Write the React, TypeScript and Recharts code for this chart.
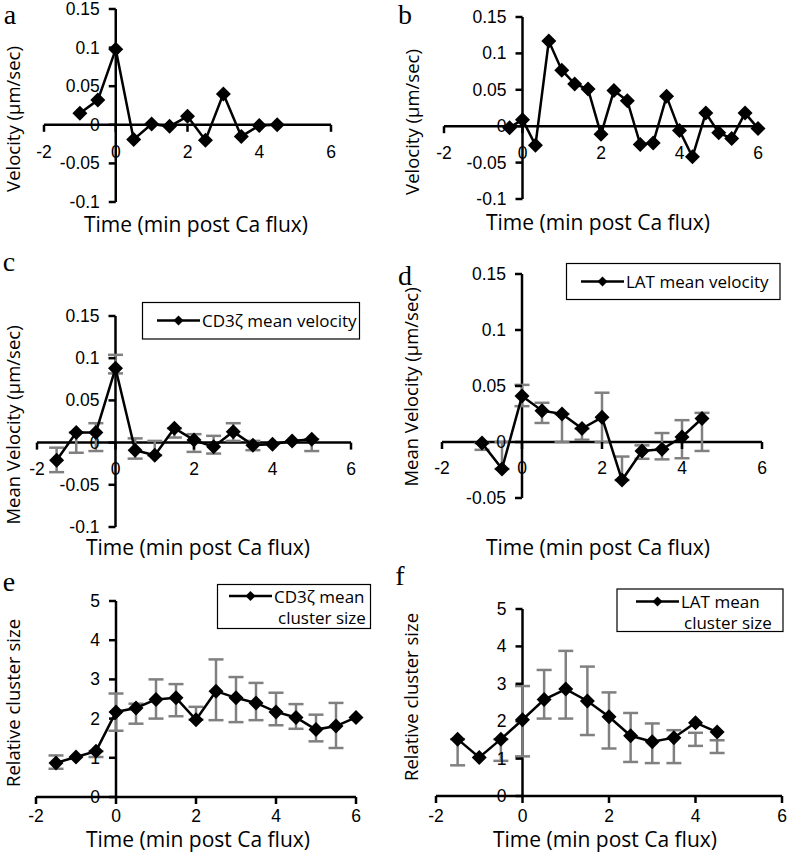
import React from "react";
import { LineChart, Line, XAxis, YAxis, ErrorBar, ReferenceLine, ReferenceDot } from "recharts";

// a – single CD3ζ track velocity
const timeA = [-1, -0.5, 0, 0.5, 1, 1.5, 2, 2.5, 3, 3.5, 4, 4.5];
const velA = [0.015, 0.032, 0.098, -0.019, 0.001, -0.002, 0.011, -0.02, 0.04, -0.015, -0.001, 0.0];

// b – single LAT track velocity
const timeB = [-0.33, 0, 0.33, 0.67, 1, 1.33, 1.67, 2, 2.33, 2.67, 3, 3.33, 3.67, 4, 4.33, 4.67, 5, 5.33, 5.67, 6];
const velB = [-0.002, 0.009, -0.026, 0.117, 0.077, 0.058, 0.051, -0.011, 0.049, 0.035, -0.025, -0.023, 0.041, -0.006, -0.042, 0.018, -0.009, -0.017, 0.018, -0.003];

// c – CD3ζ mean velocity (error bar low / high ends)
const timeC = [-1.5, -1, -0.5, 0, 0.5, 1, 1.5, 2, 2.5, 3, 3.5, 4, 4.5, 5];
const velC = [-0.021, 0.012, 0.012, 0.088, -0.009, -0.015, 0.017, 0.003, -0.005, 0.013, -0.003, -0.002, 0.002, 0.004];
const lowC = [-0.035, -0.012, -0.01, 0.082, -0.019, -0.015, 0.006, -0.011, -0.013, 0.002, -0.009, null, null, -0.01];
const highC = [-0.006, 0.012, 0.023, 0.104, 0.005, 0.002, 0.017, 0.01, 0.008, 0.023, 0.002, null, null, 0.004];

// d – LAT mean velocity
const timeD = [-1, -0.5, 0, 0.5, 1, 1.5, 2, 2.5, 3, 3.5, 4, 4.5];
const velD = [-0.001, -0.024, 0.041, 0.028, 0.025, 0.012, 0.022, -0.034, -0.008, -0.0065, 0.0045, 0.021];
const lowD = [-0.007, -0.024, 0.032, 0.017, 0.0, 0.002, 0.0, -0.034, -0.015, -0.0155, -0.0145, -0.008];
const highD = [-0.001, 0.0, 0.051, 0.035, 0.025, 0.012, 0.044, -0.013, -0.003, 0.008, 0.0195, 0.026];

// e – CD3ζ mean cluster size
const timeE = [-1.5, -1, -0.5, 0, 0.5, 1, 1.5, 2, 2.5, 3, 3.5, 4, 4.5, 5, 5.5, 6];
const sizeE = [0.87, 1.02, 1.17, 2.17, 2.27, 2.49, 2.53, 1.97, 2.7, 2.53, 2.4, 2.17, 2.03, 1.72, 1.81, 2.03];
const lowE = [0.72, null, 1.02, 1.69, 1.87, 2.0, 2.06, 1.97, 1.96, 1.91, 1.96, 1.83, 1.74, 1.42, 1.25, null];
const highE = [1.06, null, 1.17, 2.64, 2.38, 3.0, 2.88, 2.3, 3.51, 3.06, 2.91, 2.66, 2.37, 2.1, 2.4, null];

// f – LAT mean cluster size
const timeF = [-1.5, -1, -0.5, 0, 0.5, 1, 1.5, 2, 2.5, 3, 3.5, 4, 4.5];
const sizeF = [1.52, 1.03, 1.52, 2.04, 2.58, 2.86, 2.54, 2.12, 1.61, 1.45, 1.56, 1.96, 1.71];
const lowF = [0.82, null, 0.94, 1.06, 2.07, 2.07, 1.63, 1.27, 0.91, 0.88, 0.88, 1.34, 1.15];
const highF = [1.52, null, 1.52, 2.94, 3.37, 3.88, 3.46, 2.77, 2.22, 1.94, 1.76, 1.69, 1.49];

const timeTicks = [-2, 0, 2, 4, 6];
const velTicks = [-0.1, -0.05, 0, 0.05, 0.1, 0.15];
const meanVelTicks = [-0.05, 0, 0.05, 0.1, 0.15];
const sizeTicks = [0, 1, 2, 3, 4, 5];

const xTitle = "Time (min post Ca flux)";

const TICK_FONT = "'Liberation Sans', Arial, sans-serif";
const TEXT_FONT = "'Open Sans', 'Noto Sans', sans-serif";
const GREY = "#808080";
const M = 34;

function rows(t: number[], v: number[], lo?: (number | null)[], hi?: (number | null)[]) {
  return t.map((x, i) => {
    const l = lo ? lo[i] : null;
    const h = hi ? hi[i] : null;
    return {
      t: x,
      v: v[i],
      err: l != null && h != null ? [v[i] - l, h - v[i]] : undefined,
    };
  });
}

const Diamond = (p: any) => {
  if (p.cx == null || p.cy == null) return null;
  const r = 7.5;
  return (
    <path
      d={`M${p.cx},${p.cy - r}L${p.cx + r},${p.cy}L${p.cx},${p.cy + r}L${p.cx - r},${p.cy}Z`}
      fill="#000"
    />
  );
};

const yTickShape = (label: string) => (p: any) => (
  <g>
    <line x1={p.cx - 7} y1={p.cy} x2={p.cx} y2={p.cy} stroke="#000" strokeWidth={2.5} />
    <text x={p.cx - 16} y={p.cy} textAnchor="end" dominantBaseline="central" fontFamily={TICK_FONT} fontSize={17.5} fill="#000">
      {label}
    </text>
  </g>
);

const xTickShape = (label: string, dy: number) => (p: any) => (
  <g>
    <line x1={p.cx} y1={p.cy} x2={p.cx} y2={p.cy + 7} stroke="#000" strokeWidth={2.5} />
    <text x={p.cx} y={p.cy + dy} textAnchor="middle" dominantBaseline="central" fontFamily={TICK_FONT} fontSize={17.5} fill="#000">
      {label}
    </text>
  </g>
);

interface PanelProps {
  data: any[];
  box: { x0: number; x1: number; y0: number; y1: number };
  yDomain: [number, number];
  yTicks: number[];
  xLabelDy: number;
  errors?: boolean;
}

function Panel({ data, box, yDomain, yTicks, xLabelDy, errors }: PanelProps) {
  const w = box.x1 - box.x0;
  const h = box.y1 - box.y0;
  return (
    <div style={{ position: "absolute", left: box.x0 - M, top: box.y0 - M }}>
      <LineChart width={w + 2 * M} height={h + 2 * M} data={data} margin={{ top: M, right: M, bottom: M, left: M }}>
        <XAxis type="number" dataKey="t" domain={[-2, 6]} hide />
        <YAxis type="number" domain={yDomain} hide />
        <ReferenceLine x={0} stroke="#000" strokeWidth={2.5} ifOverflow="visible" />
        <ReferenceLine y={0} stroke="#000" strokeWidth={2.5} ifOverflow="visible" />
        {yTicks.map((v) => (
          <ReferenceDot key={`y${v}`} x={0} y={v} r={0} ifOverflow="visible" shape={yTickShape(String(v))} />
        ))}
        {timeTicks.map((v) => (
          <ReferenceDot key={`x${v}`} x={v} y={0} r={0} ifOverflow="visible" shape={xTickShape(String(v), xLabelDy)} />
        ))}
        <Line
          type="linear"
          dataKey="v"
          stroke="#000"
          strokeWidth={2.5}
          dot={<Diamond />}
          activeDot={false}
          isAnimationActive={false}
        >
          {errors && <ErrorBar dataKey="err" direction="y" width={7.5} stroke={GREY} strokeWidth={2.5} />}
        </Line>
      </LineChart>
    </div>
  );
}

const Letter = ({ x, y, c }: { x: number; y: number; c: string }) => (
  <text x={x} y={y} textAnchor="middle" fontFamily="'Liberation Serif', 'Times New Roman', serif" fontSize={28} fill="#000">
    {c}
  </text>
);

const XTitle = ({ x, y }: { x: number; y: number }) => (
  <text x={x} y={y} textAnchor="middle" dominantBaseline="central" fontFamily={TEXT_FONT} fontSize={21} fill="#000">
    {xTitle}
  </text>
);

const YTitle = ({ x, y, label }: { x: number; y: number; label: string }) => (
  <text
    transform={`translate(${x},${y}) rotate(-90)`}
    textAnchor="middle"
    dominantBaseline="central"
    fontFamily={TEXT_FONT}
    fontSize={18.5}
    fill="#000"
  >
    {label}
  </text>
);

const LegendBox = ({
  x, y, w, h, lineX, lineY, lines,
}: { x: number; y: number; w: number; h: number; lineX: number; lineY: number; lines: { text: string; dx: number }[] }) => (
  <g>
    <rect x={x} y={y} width={w} height={h} fill="#fff" stroke="#000" strokeWidth={1.2} />
    <line x1={lineX} y1={lineY} x2={lineX + 43} y2={lineY} stroke="#000" strokeWidth={2.5} />
    <path d={`M${lineX + 21.5},${lineY - 5}L${lineX + 26.5},${lineY}L${lineX + 21.5},${lineY + 5}L${lineX + 16.5},${lineY}Z`} fill="#000" />
    {lines.map((l, i) => (
      <text key={i} x={lineX + 44 + l.dx} y={lineY + i * 21} dominantBaseline="central" fontFamily={TEXT_FONT} fontSize={17} fill="#000">
        {l.text}
      </text>
    ))}
  </g>
);

export default function App() {
  return (
    <div style={{ position: "absolute", left: 0, top: 0, width: 788, height: 853, background: "#fff", overflow: "hidden" }}>
      <Panel data={rows(timeA, velA)} box={{ x0: 44, x1: 331, y0: 9, y1: 202 }} yDomain={[-0.1, 0.15]} yTicks={velTicks} xLabelDy={27} />
      <Panel data={rows(timeB, velB)} box={{ x0: 444, x1: 758, y0: 17, y1: 199 }} yDomain={[-0.1, 0.15]} yTicks={velTicks} xLabelDy={27} />
      <Panel data={rows(timeC, velC, lowC, highC)} box={{ x0: 37, x1: 351, y0: 316, y1: 527 }} yDomain={[-0.1, 0.15]} yTicks={velTicks} xLabelDy={26} errors />
      <Panel data={rows(timeD, velD, lowD, highD)} box={{ x0: 442, x1: 762, y0: 274, y1: 498 }} yDomain={[-0.05, 0.15]} yTicks={meanVelTicks} xLabelDy={26} errors />
      <Panel data={rows(timeE, sizeE, lowE, highE)} box={{ x0: 36, x1: 356, y0: 601, y1: 797 }} yDomain={[0, 5]} yTicks={sizeTicks} xLabelDy={19} errors />
      <Panel data={rows(timeF, sizeF, lowF, highF)} box={{ x0: 436, x1: 782, y0: 609, y1: 796 }} yDomain={[0, 5]} yTicks={sizeTicks} xLabelDy={20} errors />

      <svg width={788} height={853} style={{ position: "absolute", left: 0, top: 0, pointerEvents: "none" }}>
        <Letter x={10} y={24} c="a" />
        <Letter x={405} y={24} c="b" />
        <Letter x={9} y={271} c="c" />
        <Letter x={405} y={285} c="d" />
        <Letter x={9} y={591} c="e" />
        <Letter x={400} y={585} c="f" />

        <YTitle x={12} y={119} label="Velocity (µm/sec)" />
        <YTitle x={411} y={122} label="Velocity (µm/sec)" />
        <YTitle x={12} y={425} label="Mean Velocity (µm/sec)" />
        <YTitle x={410} y={387} label="Mean Velocity (µm/sec)" />
        <YTitle x={12} y={703} label="Relative cluster size" />
        <YTitle x={410} y={697} label="Relative cluster size" />

        <XTitle x={196} y={224} />
        <XTitle x={598} y={222} />
        <XTitle x={198} y={547} />
        <XTitle x={598} y={547} />
        <XTitle x={198} y={838.5} />
        <XTitle x={605} y={838.5} />

        <LegendBox x={142.5} y={302.5} w={217} h={36.5} lineX={157} lineY={320.5} lines={[{ text: "CD3ζ mean velocity", dx: 1 }]} />
        <LegendBox x={566.5} y={263.5} w={213.5} h={36} lineX={581} lineY={281.5} lines={[{ text: "LAT mean velocity", dx: 1 }]} />
        <LegendBox
          x={217.5}
          y={584.5}
          w={153}
          h={44}
          lineX={229}
          lineY={596}
          lines={[{ text: "CD3ζ mean", dx: 1 }, { text: "cluster size", dx: 5 }]}
        />
        <LegendBox
          x={617}
          y={589}
          w={166}
          h={42.5}
          lineX={636}
          lineY={601.5}
          lines={[{ text: "LAT mean", dx: 1 }, { text: "cluster size", dx: 4 }]}
        />
      </svg>
    </div>
  );
}
